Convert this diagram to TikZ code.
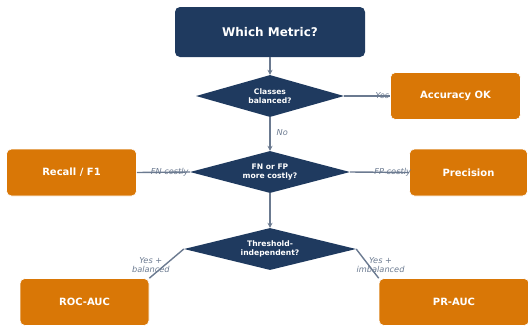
\documentclass[tikz,border=0pt]{standalone}
\usepackage{fontspec}
\setmainfont{DejaVu Sans}
\usetikzlibrary{shapes.geometric,arrows.meta}
\definecolor{navy}{HTML}{1F3A5F}
\definecolor{orng}{HTML}{D97706}
\definecolor{linec}{HTML}{6B7A90}
\definecolor{labc}{HTML}{6B7A90}
\tikzset{
  titlebox/.style={fill=navy, rounded corners=5pt, minimum width=190pt, minimum height=50pt, text=white, font=\bfseries\fontsize{12}{14}\selectfont, inner sep=0pt},
  outbox/.style={fill=orng, draw=white, line width=0.6pt, rounded corners=5pt, minimum height=47pt, text=white, font=\bfseries\fontsize{10}{12}\selectfont, inner sep=0pt},
  dia/.style={diamond, fill=navy, inner sep=0pt, minimum height=42pt, aspect=3.5, text=white, font=\bfseries\fontsize{7.6}{8.6}\selectfont, align=center},
  conn/.style={draw=linec, line width=1.4pt},
  arr/.style={conn, -{Stealth[length=5pt,width=5pt]}},
  lab/.style={text=labc, font=\itshape\fontsize{8.2}{8.6}\selectfont, align=center, inner sep=0pt}
}
\begin{document}
\begin{tikzpicture}[x=1pt,y=-1pt]
\useasboundingbox (0,0) rectangle (528,325);
\node[titlebox] (title) at (270,32) {Which Metric?};
\node[dia, minimum width=148pt] (d1) at (270,96) {Classes\\balanced?};
\node[dia, minimum width=160pt] (d2) at (270,172) {FN or FP\\more costly?};
\node[dia, minimum width=172pt] (d3) at (270,249) {Threshold-\\independent?};
\node[outbox, minimum width=130pt] (acc) at (455.5,96) {Accuracy OK};
\node[outbox, minimum width=130pt] (rec) at (71.5,172.5) {Recall / F1};
\node[outbox, minimum width=118pt] (prec) at (468.5,172.5) {Precision};
\node[outbox, minimum width=129pt] (roc) at (84.5,302) {ROC-AUC};
\node[outbox, minimum width=150pt] (pr) at (454,302) {PR-AUC};
\draw[arr] (title) -- (d1);
\draw[arr] (d1) -- node[lab, pos=0.45, right=6pt] {No} (d2);
\draw[arr] (d2) -- (d3);
\draw[conn] (d1.east) -- node[lab, pos=0.83] {Yes} (acc.west);
\draw[conn] (d2.west) -- node[lab, pos=0.38] {FN costly} (rec.east);
\draw[conn] (d2.east) -- node[lab, pos=0.72] {FP costly} (prec.west);
\draw[conn] (d3.west) -- node[lab, pos=0.55, xshift=-14pt] {Yes +\\balanced} (roc.north east);
\draw[conn] (d3.east) -- node[lab, pos=0.55, xshift=12pt] {Yes +\\imbalanced} (pr.north west);
\end{tikzpicture}
\end{document}
